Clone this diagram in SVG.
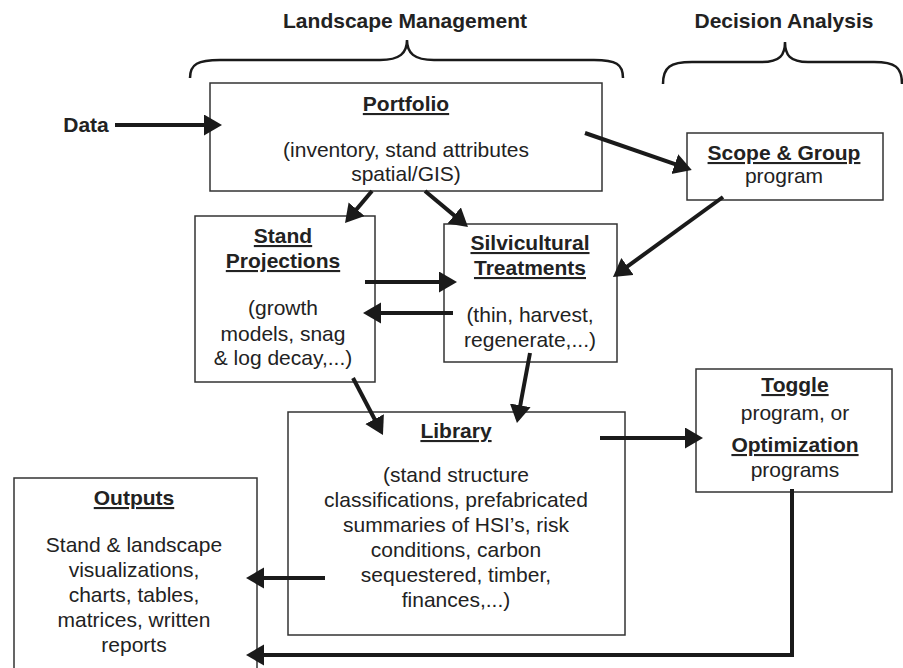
<svg xmlns="http://www.w3.org/2000/svg" width="903" height="668" viewBox="0 0 903 668">
<style>
text{font-family:"Liberation Sans",Arial,sans-serif;font-size:21px;fill:#222;text-anchor:middle}
.b{font-weight:bold}
.u{font-weight:bold;text-decoration:underline}
.box{fill:#fff;stroke:#333;stroke-width:1.5}
.c{fill:none;stroke:#1a1a1a;stroke-width:4}
.br{fill:none;stroke:#1a1a1a;stroke-width:2.5}
</style>
<defs>
<marker id="ah" markerUnits="userSpaceOnUse" markerWidth="19" markerHeight="22" refX="14" refY="10.5" orient="auto">
<path d="M0,0 L18,10.5 L0,21 z" fill="#1a1a1a"/>
</marker>
</defs>
<g id="headings">
<text class="b" x="405" y="28">Landscape Management</text>
<text class="b" x="784" y="28">Decision Analysis</text>
<path class="br" d="M190,78 C190,64 198,60 220,60 L380,60 C400,60 407,53 407,40 C407,53 414,60 434,60 L594,60 C616,60 623,64 623,78"/>
<path class="br" d="M663,84 C663,67 670,62 692,62 L762,62 C780,62 785,55 785,42 C785,55 790,62 808,62 L874,62 C895,62 902,67 902,84"/>
<text class="b" x="86" y="132">Data</text>
</g>
<g id="portfolio">
<rect class="box" x="210" y="83" width="392" height="108"/>
<text class="u" x="406" y="111">Portfolio</text>
<text x="406" y="157">(inventory, stand attributes</text>
<text x="406" y="181">spatial/GIS)</text>
</g>
<g id="scope">
<rect class="box" x="687" y="133" width="196" height="67"/>
<text class="u" x="784" y="160">Scope &amp; Group</text>
<text x="784" y="183">program</text>
</g>
<g id="stand">
<rect class="box" x="195" y="216" width="180" height="166"/>
<text class="u" x="283" y="243">Stand</text>
<text class="u" x="283" y="268">Projections</text>
<text x="283" y="315">(growth</text>
<text x="283" y="341">models, snag</text>
<text x="283" y="365">&amp; log decay,...)</text>
</g>
<g id="silvicultural">
<rect class="box" x="444" y="224" width="173" height="138"/>
<text class="u" x="530" y="250">Silvicultural</text>
<text class="u" x="530" y="275">Treatments</text>
<text x="530" y="322">(thin, harvest,</text>
<text x="530" y="347">regenerate,...)</text>
</g>
<g id="library">
<rect class="box" x="288" y="412" width="337" height="223"/>
<text class="u" x="456" y="438">Library</text>
<text x="456" y="482">(stand structure</text>
<text x="456" y="507">classifications, prefabricated</text>
<text x="456" y="532">summaries of HSI’s, risk</text>
<text x="456" y="557">conditions, carbon</text>
<text x="456" y="582">sequestered, timber,</text>
<text x="456" y="607">finances,...)</text>
</g>
<g id="toggle">
<rect class="box" x="696" y="369" width="196" height="123"/>
<text class="u" x="795" y="392">Toggle</text>
<text x="795" y="420">program, or</text>
<text class="u" x="795" y="452">Optimization</text>
<text x="795" y="477">programs</text>
</g>
<g id="outputs">
<rect class="box" x="14" y="478" width="243" height="200"/>
<text class="u" x="134" y="505">Outputs</text>
<text x="134" y="552">Stand &amp; landscape</text>
<text x="134" y="577">visualizations,</text>
<text x="134" y="602">charts, tables,</text>
<text x="134" y="627">matrices, written</text>
<text x="134" y="652">reports</text>
</g>
<g id="connectors">
<line class="c" x1="115" y1="125" x2="218" y2="125" marker-end="url(#ah)"/>
<line class="c" x1="585" y1="133" x2="688" y2="168.7" marker-end="url(#ah)"/>
<line class="c" x1="723" y1="197" x2="616.2" y2="274.6" marker-end="url(#ah)"/>
<line class="c" x1="372" y1="191" x2="347.6" y2="219.9" marker-end="url(#ah)"/>
<line class="c" x1="425" y1="191" x2="464.9" y2="224.4" marker-end="url(#ah)"/>
<line class="c" x1="365" y1="282" x2="453" y2="282" marker-end="url(#ah)"/>
<line class="c" x1="453" y1="313" x2="367" y2="313" marker-end="url(#ah)"/>
<line class="c" x1="353" y1="378" x2="381.1" y2="431.5" marker-end="url(#ah)"/>
<line class="c" x1="530" y1="353" x2="517.7" y2="419.1" marker-end="url(#ah)"/>
<line class="c" x1="600" y1="438" x2="699" y2="438" marker-end="url(#ah)"/>
<line class="c" x1="325" y1="578" x2="250" y2="578" marker-end="url(#ah)"/>
<polyline class="c" points="792,489 792,655 250,655" marker-end="url(#ah)"/>
</g>
</svg>
